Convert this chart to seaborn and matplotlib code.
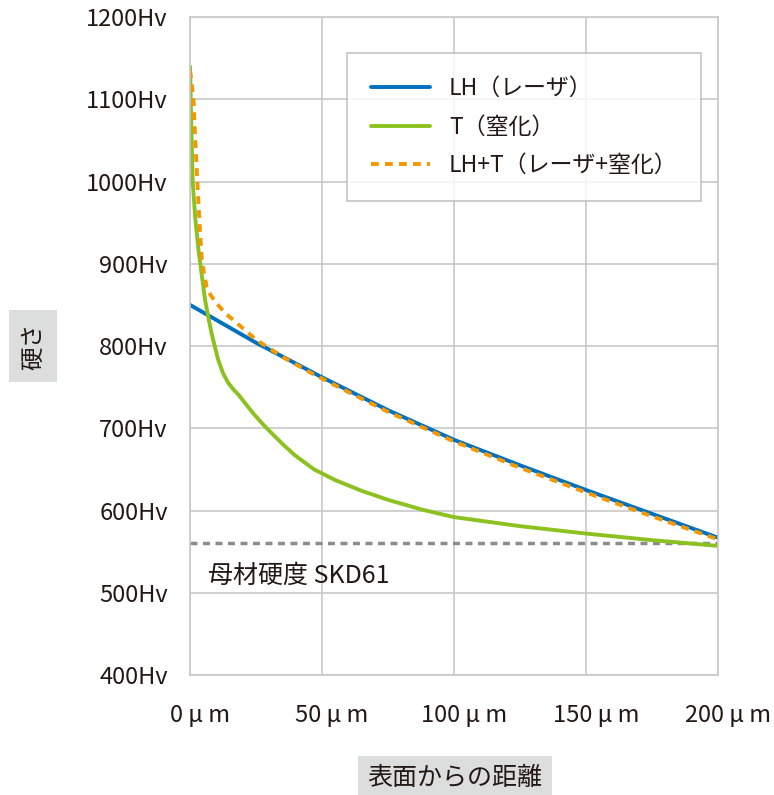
import pandas as pd
import numpy as np
import seaborn as sns
import matplotlib.pyplot as plt
from matplotlib.transforms import ScaledTranslation

# depth from surface (um) and hardness (Hv)
lh_x = [0, 25, 50, 75, 100, 125, 150, 175, 200]
lh_y = [850, 804, 762, 722, 686, 655, 625, 596, 567]

t_x = [0, 0.4, 1, 2, 3.2, 4.5, 5.7, 7, 8.2, 9.5, 10.7, 12.5, 14.5, 16.5, 18.3, 21, 24,
       27, 29.7, 35, 39.8, 47, 55, 65, 75, 88, 100, 125, 150, 175, 200]
t_y = [1140, 1080, 1000, 955, 917, 885, 856, 834, 815, 798, 783, 767, 755, 747, 741, 730, 718,
       707, 698, 681, 667, 650, 637, 624, 613, 601, 592, 581, 572, 564, 557]

lht_x = [0, 0.6, 1.3, 2, 2.8, 3.6, 4.4, 5.3, 6.3, 7.8, 9.5, 13.3, 17, 25.3, 36, 46, 60, 75,
         100, 125, 150, 175, 200]
lht_y = [1135, 1120, 1100, 1050, 998, 950, 908, 888, 872, 862, 854, 840, 830, 807, 785, 767,
         744, 720, 684, 652, 622, 593, 565]

base_hv = 560
base_label = "母材硬度 SKD61"

x_ticks = [0, 50, 100, 150, 200]
x_ticklabels = ["0 μ m", "50 μ m", "100 μ m", "150 μ m", "200 μ m"]
y_ticks = [400, 500, 600, 700, 800, 900, 1000, 1100, 1200]
y_ticklabels = [f"{v}Hv" for v in y_ticks]

names = ["LH（レーザ）", "T（窒化）", "LH+T（レーザ+窒化）"]

df = pd.concat([
    pd.DataFrame({"x": lh_x, "y": lh_y, "s": names[0]}),
    pd.DataFrame({"x": t_x, "y": t_y, "s": names[1]}),
    pd.DataFrame({"x": lht_x, "y": lht_y, "s": names[2]}),
])

sns.set_style("white")
plt.rcParams['font.family'] = ['Noto Sans CJK JP', 'DejaVu Sans']

fig = plt.figure(figsize=(7.74, 7.95), dpi=100)
ax = fig.add_axes([0.2455, 0.1509, 0.6821, 0.8277])

palette = {names[0]: "#0070c0", names[1]: "#8cc21f", names[2]: "#f39800"}
ax.axhline(base_hv, color="#8c8c8c", lw=2.5, ls=(0, (2, 1.6)), zorder=1)
sns.lineplot(data=df, x="x", y="y", hue="s", palette=palette, ax=ax,
             style="s", dashes={names[0]: "", names[1]: "", names[2]: (2, 1.6)},
             linewidth=2.8, sort=False, estimator=None, legend=True)

ax.set_xlim(0, 200)
ax.set_ylim(400, 1200)
ax.set_xticks(x_ticks)
ax.set_xticklabels(x_ticklabels)
ax.set_yticks(y_ticks)
ax.set_yticklabels(y_ticklabels)
ax.tick_params(labelsize=17, colors="#231815", length=0)
ax.tick_params(axis="y", pad=16)
ax.tick_params(axis="x", pad=21)
# x labels sit a little right of their ticks in the original
shift = ScaledTranslation(10 / 100, 0, fig.dpi_scale_trans)
for lab in ax.get_xticklabels():
    lab.set_transform(lab.get_transform() + shift)
ax.grid(True, color="#c8c8c8", lw=1.2)
for sp in ax.spines.values():
    sp.set_color("#c8c8c8")
    sp.set_linewidth(1.2)
ax.set_xlabel("")
ax.set_ylabel("")

ax.text(7, 521, base_label, fontsize=18, color="#231815", va="center")

leg = ax.legend(loc="upper left", bbox_to_anchor=(0.297, 0.945), fontsize=16.5,
                frameon=True, fancybox=False, edgecolor="#b4b4b4",
                handlelength=2.6, handletextpad=0.8, borderpad=1.05,
                labelspacing=0.67, borderaxespad=0)
leg.get_frame().set_linewidth(1.2)
for t in leg.get_texts():
    t.set_color("#231815")

fig.text(0.043, 0.5648, "硬さ", rotation=90, fontsize=17, color="#231815",
         ha="center", va="center",
         bbox=dict(facecolor="#dcdddd", edgecolor="none", pad=9))
fig.text(0.588, 0.021, "表面からの距離", fontsize=18, color="#231815",
         ha="center", va="center",
         bbox=dict(facecolor="#dcdddd", edgecolor="none", pad=7))

fig.savefig("out.png", dpi=100)
